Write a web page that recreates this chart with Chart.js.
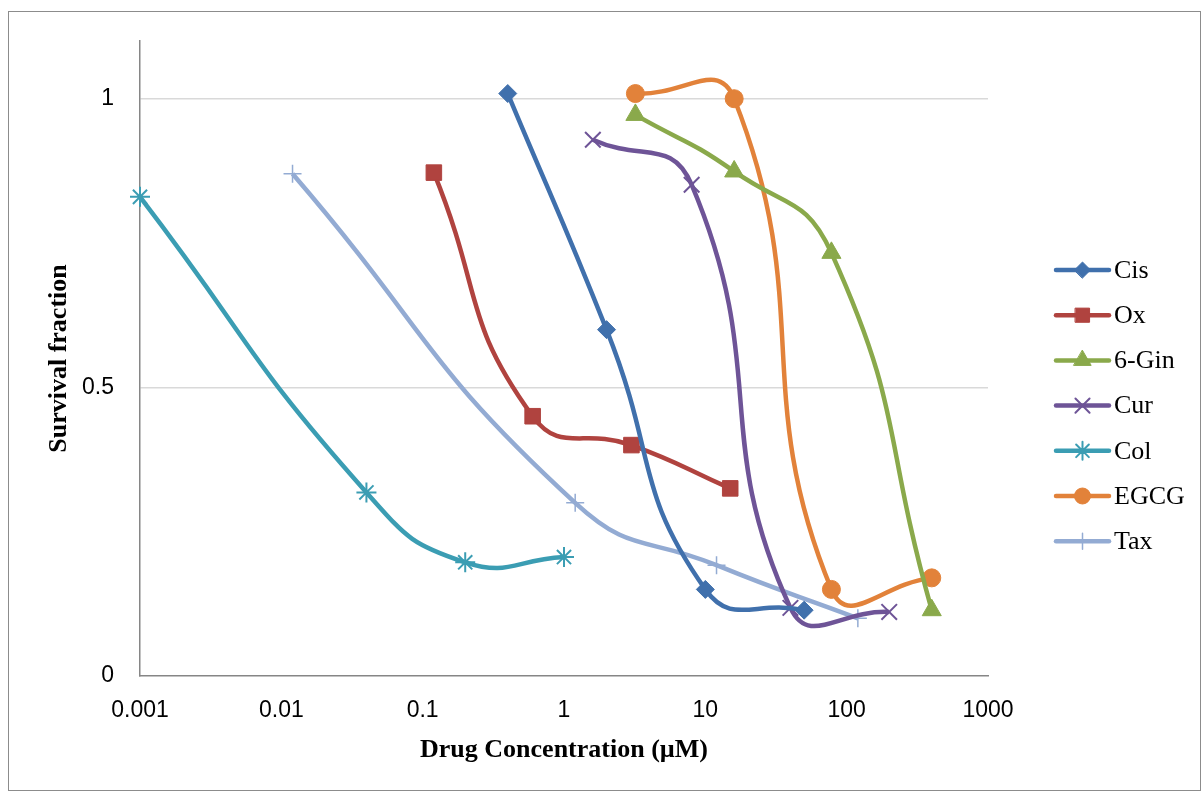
<!DOCTYPE html>
<html>
<head>
<meta charset="utf-8">
<script src="https://cdn.jsdelivr.net/npm/chart.js@4/dist/chart.umd.min.js"></script>
<style>
    html, body { margin: 0; padding: 0; background: #fff; }
    #wrap {
        position: absolute;
        left: 8px;
        top: 11px;
        width: 1191px;
        height: 778px;
        border: 1px solid #8c8c8c;
        background: #fff;
    }
    #chart { display: block; }
</style>
</head>
<body>
<div id="wrap"><canvas id="chart" width="1191" height="778"></canvas></div>
<script>
// chart data
const seriesNames = ["Cis", "Ox", "6-Gin", "Cur", "Col", "EGCG", "Tax"];

const concCis = [0.4, 2, 10, 50];
const survCis = [1.009, 0.600, 0.150, 0.114];

const concOx = [0.12, 0.6, 3, 15];
const survOx = [0.872, 0.450, 0.400, 0.325];

const concGin = [3.2, 16, 78, 400];
const survGin = [0.972, 0.874, 0.733, 0.114];

const concCur = [1.6, 8, 40, 200];
const survCur = [0.929, 0.851, 0.118, 0.111];

const concCol = [0.001, 0.04, 0.2, 1];
const survCol = [0.830, 0.318, 0.197, 0.206];

const concEgcg = [3.2, 16, 78, 400];
const survEgcg = [1.009, 1.000, 0.150, 0.170];

const concTax = [0.012, 1.2, 12, 120];
const survTax = [0.870, 0.300, 0.192, 0.100];

const xTicks = [0.001, 0.01, 0.1, 1, 10, 100, 1000];
const yTicks = [0, 0.5, 1];

// look of each series
const colors = ["#4070ac", "#b0433f", "#8aa94b", "#6e5497", "#3b9db3", "#e2823a", "#93abd3"];
const pointStyles = ["rectRot", "rect", "triangle", "crossRot", "star", "circle", "cross"];
const pointRadii = [9, 11, 11, 11, 10, 9, 9];
const pointBorders = [1, 1, 1, 2, 2, 1, 1.5];

function pairs(xs, ys) {
    return xs.map((x, i) => ({ x: x, y: ys[i] }));
}

const allConc = [concCis, concOx, concGin, concCur, concCol, concEgcg, concTax];
const allSurv = [survCis, survOx, survGin, survCur, survCol, survEgcg, survTax];

const datasets = seriesNames.map((name, i) => ({
    label: name,
    data: pairs(allConc[i], allSurv[i]),
    borderColor: colors[i],
    backgroundColor: colors[i],
    borderWidth: 4.5,
    tension: 0.5,
    clip: 14,
    pointStyle: pointStyles[i],
    pointRadius: pointRadii[i],
    pointBorderWidth: pointBorders[i],
    pointBackgroundColor: colors[i],
    pointBorderColor: colors[i],
    fill: false
}));

// legend with line + marker, drawn on the canvas
const sideLegend = {
    id: "sideLegend",
    afterDraw(chart) {
        const ctx = chart.ctx;
        const x0 = 1047, x1 = 1100, tx = 1105;
        const top = 258, gap = 45.2;
        ctx.save();
        ctx.font = "26px 'Liberation Serif', 'Times New Roman', serif";
        ctx.textBaseline = "middle";
        ctx.fillStyle = "#000";
        seriesNames.forEach((name, i) => {
            const y = top + i * gap;
            ctx.strokeStyle = colors[i];
            ctx.lineWidth = 4.5;
            ctx.lineCap = "round";
            ctx.beginPath();
            ctx.moveTo(x0, y);
            ctx.lineTo(x1, y);
            ctx.stroke();
            if (Chart.helpers && Chart.helpers.drawPoint) {
                ctx.fillStyle = colors[i];
                ctx.lineWidth = pointBorders[i];
                Chart.helpers.drawPoint(ctx, {
                    pointStyle: pointStyles[i],
                    radius: pointRadii[i] - 1,
                    borderWidth: pointBorders[i],
                    rotation: 0
                }, (x0 + x1) / 2, y);
            }
            ctx.fillStyle = "#000";
            ctx.fillText(name, tx, y + 1);
        });
        ctx.restore();
    }
};

new Chart(document.getElementById("chart"), {
    type: "line",
    data: { datasets: datasets },
    options: {
        responsive: false,
        animation: false,
        layout: { padding: { top: 29, right: 212, bottom: 0, left: 0 } },
        plugins: {
            legend: { display: false },
            tooltip: { enabled: false }
        },
        scales: {
            x: {
                type: "logarithmic",
                min: 0.001,
                max: 1000,
                afterBuildTicks: scale => {
                    scale.ticks = xTicks.map(v => ({ value: v }));
                },
                afterFit: scale => {
                    scale.height = 114;
                    scale.paddingLeft = 0;
                    scale.paddingRight = 0;
                },
                grid: { display: false, drawTicks: false },
                border: { display: true, color: "#868686", width: 1.5 },
                ticks: {
                    autoSkip: false,
                    maxRotation: 0,
                    padding: 21,
                    color: "#000",
                    font: { family: "'Liberation Sans', Arial, sans-serif", size: 23 },
                    callback: v => String(v)
                },
                title: {
                    display: true,
                    text: "Drug Concentration (µM)",
                    color: "#000",
                    font: { family: "'Liberation Serif', 'Times New Roman', serif", size: 26, weight: "bold" },
                    padding: { top: 0, bottom: 24 }
                }
            },
            y: {
                min: 0,
                max: 1.1,
                afterBuildTicks: scale => {
                    scale.ticks = yTicks.map(v => ({ value: v }));
                },
                afterFit: scale => {
                    scale.width = 131;
                    scale.paddingTop = 0;
                    scale.paddingBottom = 0;
                },
                grid: {
                    drawTicks: false,
                    color: ctx => (ctx.tick && ctx.tick.value === 0) ? "rgba(0,0,0,0)" : "#d9d9d9",
                    lineWidth: 1.5
                },
                border: { display: true, color: "#868686", width: 1.5 },
                ticks: {
                    padding: 26,
                    crossAlign: "near",
                    color: "#000",
                    font: { family: "'Liberation Sans', Arial, sans-serif", size: 23 },
                    callback: v => String(v)
                },
                title: {
                    display: true,
                    text: "Survival fraction",
                    color: "#000",
                    font: { family: "'Liberation Serif', 'Times New Roman', serif", size: 26, weight: "bold" },
                    padding: { top: 35, bottom: 0 }
                }
            }
        }
    },
    plugins: [sideLegend]
});
</script>
</body>
</html>
